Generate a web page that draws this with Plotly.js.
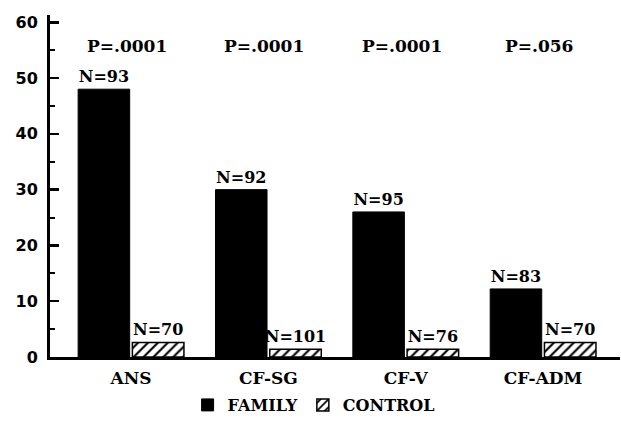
<!DOCTYPE html>
<html><head><meta charset="utf-8">
<script src="https://cdn.plot.ly/plotly-3.0.1.min.js"></script>
<style>body{margin:0;background:#fff}#c{width:621px;height:422px}</style>
</head><body><div id="c"></div>
<script>
const categories = ["ANS", "CF-SG", "CF-V", "CF-ADM"];
const familyValues = [48, 30, 26, 12.2];
const controlValues = [2.6, 1.4, 1.4, 2.6];
const familyN = ["N=93", "N=92", "N=95", "N=83"];
const controlN = ["N=70", "N=101", "N=76", "N=70"];
const pValues = ["P=.0001", "P=.0001", "P=.0001", "P=.056"];
const pLabelY = 55.7;

const F = "DejaVu Serif, Liberation Serif, serif";

const traces = [
  {type: "bar", name: "FAMILY", x: categories, y: familyValues,
   text: familyN, textposition: "outside", constraintext: "none", cliponaxis: false,
   textfont: {family: F, size: 16, color: "#000", weight: "bold"},
   marker: {color: "#000", line: {color: "#000", width: 1}}},
  {type: "bar", name: "CONTROL", x: categories, y: controlValues,
   text: controlN, textposition: "outside", constraintext: "none", cliponaxis: false,
   textfont: {family: F, size: 16, color: "#000", weight: "bold"},
   marker: {color: "#fff", line: {color: "#000", width: 1.5},
            pattern: {shape: "/", fgcolor: "#000", bgcolor: "#fff", size: 7, solidity: 0.3}}}
];

const annotations = categories.map((c, i) => ({
  x: c, y: pLabelY, xref: "x", yref: "y", text: pValues[i], showarrow: false,
  font: {family: F, size: 17, color: "#000", weight: "bold"}, xshift: -4
}));

const layout = {
  width: 621, height: 422,
  margin: {l: 50, r: 1, t: 15, b: 65, autoexpand: false},
  paper_bgcolor: "#fff", plot_bgcolor: "#fff",
  barmode: "group", bargap: 0.21, bargroupgap: 0.05,
  showlegend: true,
  legend: {orientation: "h", x: 0.505, xanchor: "center", xref: "container",
           y: 0.0, yanchor: "bottom", yref: "container",
           font: {family: F, size: 16, color: "#000", weight: "bold"},
           itemwidth: 30, tracegroupgap: 0},
  xaxis: {range: [-0.59, 3.56], showline: true, linecolor: "#000", linewidth: 3,
          ticks: "", showgrid: false, zeroline: false, ticklabelstandoff: 4,
          tickfont: {family: F, size: 17, color: "#000", weight: "bold"}},
  yaxis: {range: [0, 61.3], showline: true, linecolor: "#000", linewidth: 3,
          ticks: "inside", ticklen: 9, tickwidth: 2.5, tickcolor: "#000",
          dtick: 10, tick0: 0, showgrid: false, zeroline: false, ticklabelstandoff: 6,
          minor: {dtick: 5, ticks: "inside", ticklen: 5, tickwidth: 2, tickcolor: "#000", showgrid: false},
          tickfont: {family: "DejaVu Sans, Liberation Sans, sans-serif", size: 16, color: "#000", weight: "bold"}},
  annotations: annotations,
  font: {family: F, color: "#000"}
};

Plotly.newPlot("c", traces, layout, {displayModeBar: false, staticPlot: true});
</script>
</body></html>
